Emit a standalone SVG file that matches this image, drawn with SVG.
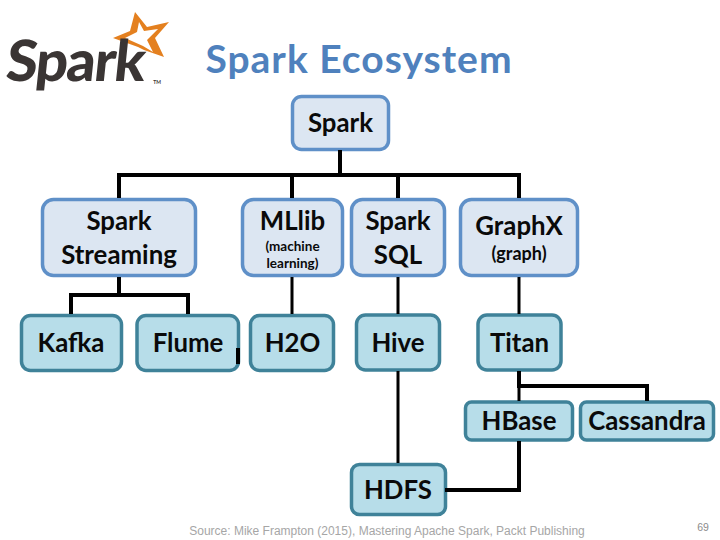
<svg xmlns="http://www.w3.org/2000/svg" width="720" height="540" viewBox="0 0 720 540">
<style>
text{font-family:"Lato","Carlito","Liberation Sans",sans-serif;font-weight:700;fill:#0a0a0a;text-anchor:middle}
.a rect{fill:#dce6f2;stroke:#5f90c8;stroke-width:3.5}
.b rect{fill:#b7dde9;stroke:#3f8299;stroke-width:3.5}
.t{font-size:25.8px}
.s{font-size:13.5px}
.m{font-size:18px}
#connectors path{fill:none;stroke:#000;stroke-width:4}
#connectors path.n{stroke-width:3}
</style>
<rect width="720" height="540" fill="#fff"/>
<g id="logo">
<path d="M135 12 L147 27 L169 22 L155 38 L164 57 L144 50 L138 47 L113 38 L130 31 Z M139 22 L137 32 L125 38 L143 46 L153 52 L147 40 L158 29 L144 31 Z" fill="#e4801f" fill-rule="evenodd"/>
<text x="82" y="81" transform="translate(82 0) skewX(-6) translate(-82 0)" style="font-size:57px;font-weight:900;fill:#3a3534;letter-spacing:-1.500px">Spark</text>
<text x="157" y="84" style="font-size:5px;fill:#3a3534">TM</text>
</g>
<text id="title" x="359" y="73" style="font-size:39px;fill:#4f81bd;letter-spacing:1px">Spark Ecosystem</text>
<g id="spark" class="a"><rect x="292.500" y="96.500" width="96" height="53" rx="9"/><text class="t" x="340.500" y="132">Spark</text></g>
<g id="streaming" class="a"><rect x="42.500" y="199.500" width="153" height="76" rx="11"/><text class="t" x="119" y="230">Spark</text><text class="t" x="119" y="264">Streaming</text></g>
<g id="mllib" class="a"><rect x="242.500" y="199.500" width="100" height="76" rx="11"/><text class="t" x="292.500" y="230">MLlib</text><text class="s" x="292.500" y="251">(machine</text><text class="s" x="292.500" y="268">learning)</text></g>
<g id="sql" class="a"><rect x="351.500" y="199.500" width="93" height="76" rx="11"/><text class="t" x="398" y="230">Spark</text><text class="t" x="398" y="264">SQL</text></g>
<g id="graphx" class="a"><rect x="460.500" y="199.500" width="117" height="76" rx="11"/><text class="t" x="519" y="235">GraphX</text><text class="m" x="519" y="260">(graph)</text></g>
<g id="kafka" class="b"><rect x="21.500" y="315.500" width="100" height="55" rx="9"/><text class="t" x="71" y="352">Kafka</text></g>
<g id="flume" class="b"><rect x="137" y="315.500" width="101.500" height="55" rx="9"/><text class="t" x="188" y="352">Flume</text></g>
<g id="h2o" class="b"><rect x="250.500" y="315.500" width="83" height="55" rx="9"/><text class="t" x="292.500" y="352">H2O</text></g>
<g id="hive" class="b"><rect x="356.500" y="315" width="83" height="55" rx="9"/><text class="t" x="398" y="352">Hive</text></g>
<g id="titan" class="b"><rect x="478" y="315" width="83" height="55" rx="9"/><text class="t" x="519.500" y="352">Titan</text></g>
<g id="hbase" class="b"><rect x="465.500" y="402" width="107" height="38" rx="6"/><text class="t" x="519" y="430">HBase</text></g>
<g id="cassandra" class="b"><rect x="580.500" y="402" width="133" height="38" rx="6"/><text class="t" x="647" y="430">Cassandra</text></g>
<g id="hdfs" class="b"><rect x="351.500" y="464.500" width="94" height="50" rx="8"/><text class="t" x="398" y="499">HDFS</text></g>
<g id="connectors">
<path d="M340 150V175M119 198V175H519V198M292 175V198M398 175V198"/>
<path d="M119 277V295M71 314V295H188V314"/>
<path class="n" d="M292 277V314M398 277V314M519 277V314M398 371V463"/>
<path d="M519 371V386H647V401"/>
<path class="n" d="M519 386V401"/>
<path d="M519 441V490H445"/>
<path d="M238 348V364"/>
</g>
<text id="source" x="387" y="535" style="font-family:'Liberation Sans',sans-serif;font-weight:400;font-size:12px;fill:#a6a6a6">Source: Mike Frampton (2015), Mastering Apache Spark, Packt Publishing</text>
<text id="page" x="703" y="531" style="font-family:'Liberation Sans',sans-serif;font-weight:400;font-size:10.500px;fill:#8c8c8c">69</text>
</svg>
